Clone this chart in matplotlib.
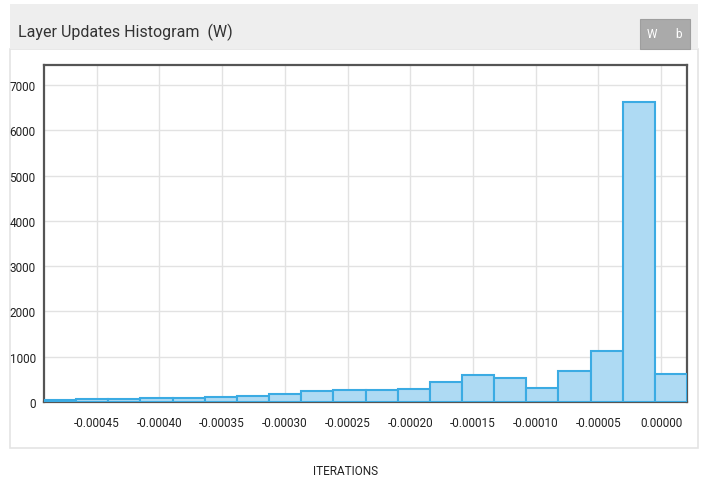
import matplotlib
matplotlib.use("Agg")
import numpy as np
from matplotlib import pyplot as plt
from matplotlib.patches import Rectangle
from matplotlib.ticker import FormatStrFormatter

# histogram of layer updates, 20 bins between min and max
x_min = -0.000492
x_max = 0.0000207
counts = [55, 66, 73, 88, 99, 121, 139, 177, 250, 265,
          265, 287, 448, 607, 530, 302, 678, 1119, 6624, 618]
x_ticks = [-0.00045, -0.00040, -0.00035, -0.00030, -0.00025,
           -0.00020, -0.00015, -0.00010, -0.00005, 0.00000]
y_ticks = [0, 1000, 2000, 3000, 4000, 5000, 6000, 7000]

title = "Layer Updates Histogram  (W)"
x_label = "ITERATIONS"

W, H = 709, 485
plt.rcParams["font.family"] = ["Roboto", "DejaVu Sans"]

fig = plt.figure(figsize=(W / 100, H / 100), dpi=100)
fig.patch.set_facecolor("white")

def px(x0, y0, x1, y1):
    # pixel box -> figure coords
    return (x0 / W, 1 - y1 / H), (x1 - x0) / W, (y1 - y0) / H

# panel body + header (behind the axes)
xy, w, h = px(10, 50, 698, 449)
fig.patches.append(Rectangle(xy, w, h, transform=fig.transFigure, zorder=-5,
                             facecolor="white", edgecolor="#e4e4e4", lw=1.2))
xy, w, h = px(10, 5, 698, 50)
fig.patches.append(Rectangle(xy, w, h, transform=fig.transFigure, zorder=-5,
                             facecolor="#eeeeee", edgecolor="none"))
fig.text(18 / W, 1 - 32 / H, title, fontsize=11.5, color="#333333",
         va="center", ha="left")

# W / b buttons
xy, w, h = px(640, 20, 690, 50)
fig.patches.append(Rectangle(xy, w, h, transform=fig.transFigure, zorder=-4,
                             facecolor="#aaaaaa", edgecolor="#9e9e9e", lw=0.8))
fig.text(652 / W, 1 - 35 / H, "W", fontsize=8.5, color="white", ha="center", va="center")
fig.text(678 / W, 1 - 35 / H, "b", fontsize=8.5, color="white", ha="center", va="center")

ax = fig.add_axes([44 / W, 1 - 403 / H, (687 - 44) / W, (403 - 66) / H])
ax.set_zorder(2)
edges = np.linspace(x_min, x_max, len(counts) + 1)
ax.bar(edges[:-1], counts, width=np.diff(edges), align="edge",
       color="#aedaf3", edgecolor="#3babe3", linewidth=1.5, zorder=3)

ax.set_xlim(x_min, x_max)
ax.set_ylim(0, 7440)
ax.set_xticks(x_ticks)
ax.set_yticks(y_ticks)
ax.xaxis.set_major_formatter(FormatStrFormatter("%.5f"))
ax.grid(True, color="#e2e2e2", linewidth=1, zorder=0)
ax.set_axisbelow(True)
ax.tick_params(length=0, labelsize=8.5, colors="#222222", pad=10)
ax.tick_params(axis="y", pad=6)
for s in ax.spines.values():
    s.set_color("#555555")
    s.set_linewidth(1.6)

fig.text(346 / W, 1 - 472 / H, x_label, fontsize=8.5, color="#222222",
         ha="center", va="center")

fig.savefig("out.png", dpi=100)
